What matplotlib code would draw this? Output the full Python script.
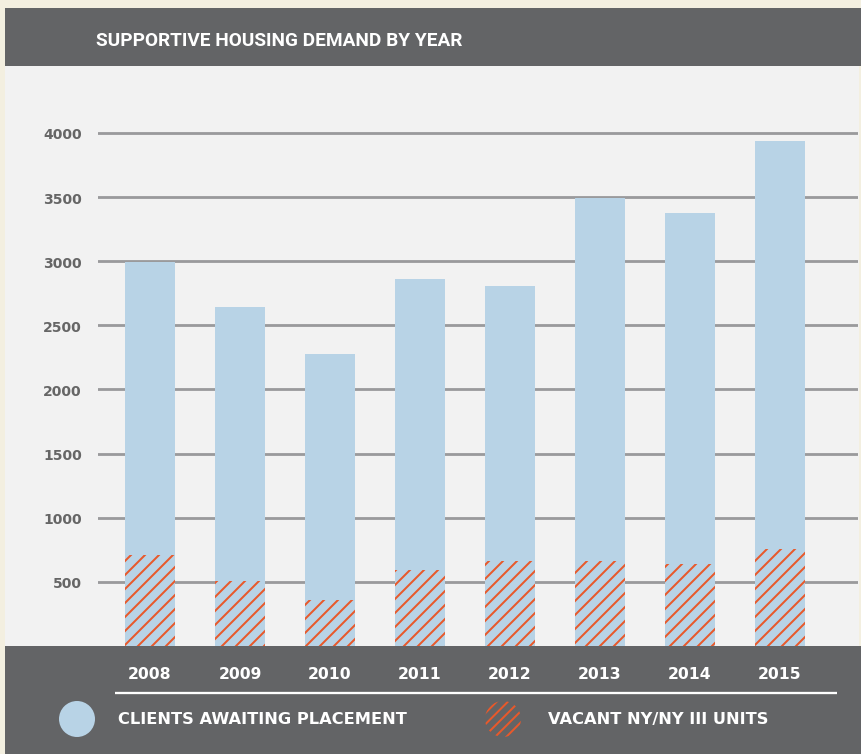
import matplotlib.pyplot as plt
from matplotlib.patches import Rectangle, Circle

years = ['2008', '2009', '2010', '2011', '2012', '2013', '2014', '2015']
clients_awaiting = [2990, 2645, 2278, 2863, 2808, 3494, 3378, 3939]
vacant_units = [712, 503, 361, 589, 665, 665, 641, 758]
y_ticks = [500, 1000, 1500, 2000, 2500, 3000, 3500, 4000]

CREAM = '#f3efe0'
DARK = '#636466'
PANEL = '#f2f2f2'
BLUE = '#b8d3e6'
ORANGE = '#e8592b'
GRID = '#9a9a9c'

W, H, DPI = 861, 755, 168
PT = 72 / DPI  # points per pixel
plt.rcParams['hatch.linewidth'] = 2.0 * PT

fig = plt.figure(figsize=(W / DPI, H / DPI), dpi=DPI, facecolor=CREAM)

def px_rect(x0, y0, x1, y1, color):
    # y measured from the top, in pixels
    fig.patches.append(Rectangle((x0 / W, 1 - y1 / H), (x1 - x0) / W, (y1 - y0) / H,
                                 transform=fig.transFigure, facecolor=color,
                                 edgecolor='none', zorder=-5))

px_rect(5, 9, W, 67, DARK)        # header band
px_rect(5, 67, W - 2, 647, PANEL)  # chart panel
px_rect(5, 647, W, H, DARK)       # bottom band

fig.text(96 / W, 1 - 41 / H, 'SUPPORTIVE HOUSING DEMAND BY YEAR', color='white',
         fontsize=19 * PT, fontweight='bold', va='center', ha='left',
         family='Roboto')

# main axes: x 98..858 px, y 67..647 px
ax = fig.add_axes([98 / W, 1 - 647 / H, (858 - 98) / W, (647 - 67) / H])
ax.set_facecolor('none')
x = list(range(len(years)))
ax.bar(x, clients_awaiting, width=50 / 90, color=BLUE, zorder=2)
ax.bar(x, vacant_units, width=50 / 90, color='none', edgecolor=ORANGE,
       linewidth=0, hatch='////', zorder=3)

ax.set_xlim((98 - 150) / 90, (858 - 150) / 90)
ax.set_ylim(0, 580 / (64.14 / 500))
ax.set_yticks(y_ticks)
ax.set_yticklabels([str(v) for v in y_ticks], color='#666666', fontsize=14 * PT,
                   fontweight='bold', family='DejaVu Sans')
ax.set_xticks(x)
ax.set_xticklabels(years, color='white', fontsize=15.7 * PT, fontweight='bold',
                   family='DejaVu Sans')
ax.tick_params(axis='y', length=0, pad=16 * PT)
ax.tick_params(axis='x', length=0, pad=20 * PT)
ax.yaxis.grid(True, color=GRID, linewidth=2.8 * PT, zorder=1)
ax.set_axisbelow(True)
for s in ax.spines.values():
    s.set_visible(False)

# legend area in pixel coordinates (origin bottom-left)
lg = fig.add_axes([0, 0, 1, 108 / H])
lg.set_xlim(0, W)
lg.set_ylim(0, 108)
lg.axis('off')
lg.plot([115, 837], [H - 694, H - 694], color='white', linewidth=2.3 * PT,
        solid_capstyle='butt')
lg.add_patch(Circle((77, H - 720), 18, facecolor=BLUE, edgecolor='none'))
lg.add_patch(Circle((503, H - 720), 18, facecolor='none', edgecolor=ORANGE,
                    linewidth=0, hatch='/////'))
lg.text(118, H - 720, 'CLIENTS AWAITING PLACEMENT', color='white', fontsize=16.3 * PT,
        fontweight='bold', va='center', ha='left', family='DejaVu Sans')
lg.text(548, H - 720, 'VACANT NY/NY III UNITS', color='white', fontsize=16.3 * PT,
        fontweight='bold', va='center', ha='left', family='DejaVu Sans')

fig.savefig('out.png', dpi=DPI, facecolor=CREAM)
